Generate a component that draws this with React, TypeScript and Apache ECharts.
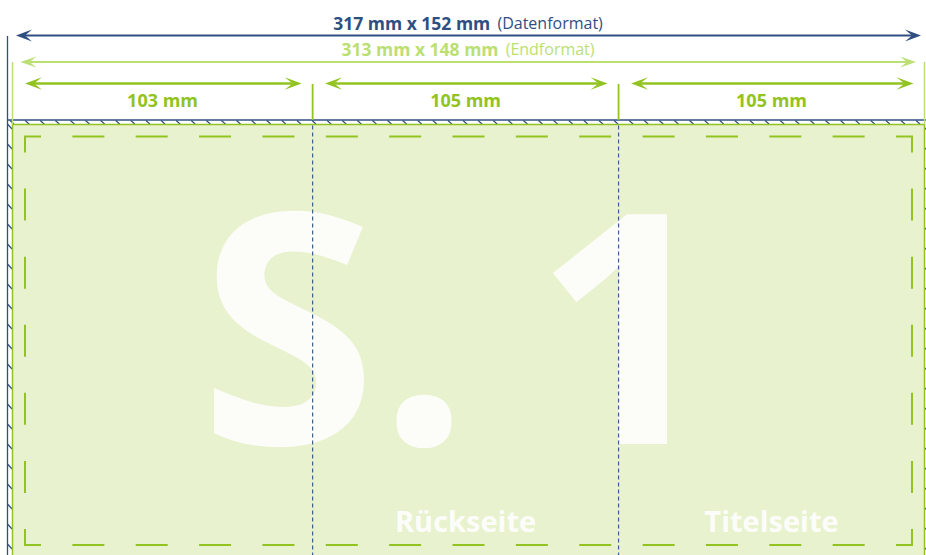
import React, { useEffect, useRef } from 'react';
import * as echarts from 'echarts';

// ---- diagram values (mm) ----
const dataFormatMm = [317, 152];
const endFormatMm = [313, 148];
const sectionMm = [103, 105, 105];
const sectionLabels = ['103 mm', '105 mm', '105 mm'];
const pageLabels = ['', 'Rückseite', 'Titelseite'];
const bigGlyphs = ['S', '.', '1'];
const titleBold = [`${dataFormatMm[0]} mm x ${dataFormatMm[1]} mm`, `${endFormatMm[0]} mm x ${endFormatMm[1]} mm`];
const titleNote = ['(Datenformat)', '(Endformat)'];

const W = 926;
const H = 555;
const DARK = '#2f4f82';
const LIGHT = '#bbdf72';
const GREEN = '#92c321';
const FILL = '#e8f2ce';
const FONT = '"Open Sans", "Noto Sans", sans-serif';

export default function App() {
  const ref = useRef<HTMLDivElement>(null);
  useEffect(() => {
    document.body.style.margin = '0';
    const chart = echarts.init(ref.current!, null, { renderer: 'svg' });

    const trimL = 12.5;
    const trimR = 924.5;
    const trimT = 124.5;
    const s = (trimR - trimL) / endFormatMm[0];
    const trimB = trimT + endFormatMm[1] * s;
    const bleedL = 7.5;
    const bleedT = 120;

    const els: any[] = [];

    const arrow = (x1: number, x2: number, y: number, color: string, lw: number, L: number, h: number, n: number) => {
      els.push({ type: 'line', shape: { x1: x1 + n, y1: y, x2: x2 - n, y2: y }, style: { stroke: color, lineWidth: lw } });
      els.push({ type: 'polygon', shape: { points: [[x1, y], [x1 + L, y - h], [x1 + n, y], [x1 + L, y + h]] }, style: { fill: color } });
      els.push({ type: 'polygon', shape: { points: [[x2, y], [x2 - L, y - h], [x2 - n, y], [x2 - L, y + h]] }, style: { fill: color } });
    };

    // trim fill
    els.push({ type: 'rect', shape: { x: trimL, y: trimT, width: trimR - trimL, height: trimB - trimT + 10 }, style: { fill: FILL } });

    // hatched bleed strips
    for (let x = 10; x < W; x += 15.1) {
      els.push({ type: 'line', shape: { x1: x, y1: bleedT + 0.5, x2: x + 4, y2: trimT - 0.5 }, style: { stroke: DARK, lineWidth: 1.2 } });
    }
    for (let y = 124; y < H; y += 20) {
      els.push({ type: 'line', shape: { x1: bleedL, y1: y, x2: trimL - 0.5, y2: y + 5 }, style: { stroke: DARK, lineWidth: 1.2 } });
      els.push({ type: 'line', shape: { x1: trimR + 0.5, y1: y + 4, x2: trimR + 5, y2: y + 9 }, style: { stroke: DARK, lineWidth: 1.2 } });
    }
    // data format outline
    els.push({ type: 'line', shape: { x1: bleedL, y1: 36, x2: bleedL, y2: H }, style: { stroke: DARK, lineWidth: 1.3 } });
    els.push({ type: 'line', shape: { x1: bleedL, y1: bleedT, x2: W, y2: bleedT }, style: { stroke: DARK, lineWidth: 1.3 } });
    // trim outline
    els.push({ type: 'polyline', shape: { points: [[trimL, H], [trimL, trimT], [trimR, trimT], [trimR, H]] }, style: { stroke: GREEN, lineWidth: 1.5, fill: null } });
    // light green end-format verticals
    els.push({ type: 'line', shape: { x1: trimL, y1: 62, x2: trimL, y2: trimT }, style: { stroke: LIGHT, lineWidth: 1.5 } });
    els.push({ type: 'line', shape: { x1: trimR, y1: 62, x2: trimR, y2: trimT }, style: { stroke: LIGHT, lineWidth: 1.5 } });

    // arrows
    arrow(16, 921, 35.5, DARK, 2, 16, 6, 9);
    arrow(20.5, 916, 62, LIGHT, 2, 16, 5.5, 9);

    // sections
    let acc = 0;
    const bounds: number[] = [trimL];
    sectionMm.forEach((mm) => { acc += mm; bounds.push(trimL + acc * s); });
    sectionMm.forEach((_, i) => {
      const a = bounds[i];
      const b = bounds[i + 1];
      arrow(a + 12.5, b - 11, 83.5, GREEN, 2.5, 17, 6.3, 9);
      els.push({ type: 'text', x: (a + b) / 2, y: 99.5, style: { text: sectionLabels[i], fill: GREEN, font: `bold 18px ${FONT}`, align: 'center', verticalAlign: 'middle' } });
      if (i > 0) {
        els.push({ type: 'line', shape: { x1: a, y1: 84, x2: a, y2: bleedT }, style: { stroke: GREEN, lineWidth: 1.8 } });
      }
    });

    // titles
    [23, 48.5].forEach((y, i) => {
      const c = i === 0 ? DARK : LIGHT;
      els.push({
        type: 'text', x: 468, y,
        style: {
          text: `{b|${titleBold[i]}}{n| ${titleNote[i]}}`,
          align: 'center', verticalAlign: 'middle',
          rich: {
            b: { fill: c, font: `bold 17.5px ${FONT}` },
            n: { fill: c, font: `16px ${FONT}`, padding: [0, 0, 0, 3] },
          },
        },
      });
    });

    // safe area dashes
    const sL = 25, sR = 912, sT = 136.5, sB = 545;
    const dashed = (x1: number, y1: number, x2: number, y2: number) => {
      const L = Math.hypot(x2 - x1, y2 - y1);
      const c = 16, d = 32, g0 = 32;
      const n = Math.round((L - 2 * c - g0) / (d + g0));
      const g = (L - 2 * c - n * d) / (n + 1);
      const ux = (x2 - x1) / L, uy = (y2 - y1) / L;
      let t = c + g;
      for (let k = 0; k < n; k++) {
        els.push({ type: 'line', shape: { x1: x1 + ux * t, y1: y1 + uy * t, x2: x1 + ux * (t + d), y2: y1 + uy * (t + d) }, style: { stroke: GREEN, lineWidth: 2 } });
        t += d + g;
      }
    };
    dashed(sL, sT, sR, sT);
    dashed(sL, sB, sR, sB);
    dashed(sL, sT, sL, sB);
    dashed(sR, sT, sR, sB);
    const corner = (pts: number[][]) => els.push({ type: 'polyline', shape: { points: pts }, style: { stroke: GREEN, lineWidth: 2, fill: null } });
    corner([[sL + 16, sT], [sL, sT], [sL, sT + 16]]);
    corner([[sR - 16, sT], [sR, sT], [sR, sT + 16]]);
    corner([[sL + 16, sB], [sL, sB], [sL, sB - 16]]);
    corner([[sR - 16, sB], [sR, sB], [sR, sB - 16]]);

    // big page number
    const glyphX = [288, 424, 626];
    bigGlyphs.forEach((g, i) => {
      els.push({ type: 'text', x: glyphX[i], y: 319, style: { text: g, fill: 'rgba(255,255,255,0.85)', font: `bold 322px ${FONT}`, lineHeight: 250, align: 'center', verticalAlign: 'middle' } });
    });

    // page labels
    pageLabels.forEach((t, i) => {
      if (!t) return;
      els.push({ type: 'text', x: (bounds[i] + bounds[i + 1]) / 2, y: 520, style: { text: t, fill: 'rgba(255,255,255,0.92)', font: `bold 29px ${FONT}`, align: 'center', verticalAlign: 'middle' } });
    });

    // fold lines
    [bounds[1], bounds[2]].forEach((x) => {
      els.push({ type: 'line', shape: { x1: x, y1: trimT + 1, x2: x, y2: H }, style: { stroke: '#3d5f92', lineWidth: 1.2, lineDash: [4, 3] } });
    });

    chart.setOption({ animation: false, graphic: { elements: els } });
    return () => chart.dispose();
  }, []);
  return <div ref={ref} style={{ width: W, height: H }} />;
}
